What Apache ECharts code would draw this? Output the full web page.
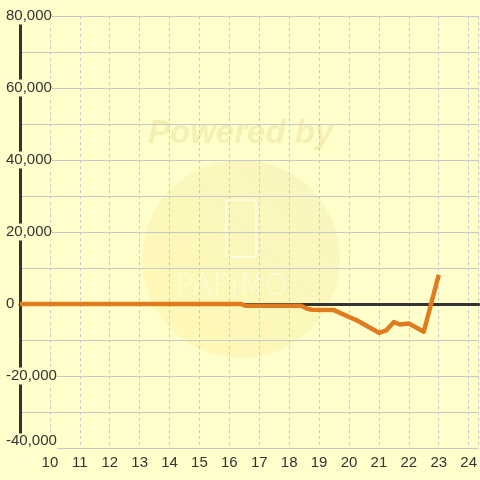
<!DOCTYPE html>
<html>
<head>
<meta charset="utf-8">
<script src="https://cdn.jsdelivr.net/npm/echarts@6/dist/echarts.min.js"></script>
<style>html,body{margin:0;padding:0;background:#ffffcc;}#c{width:480px;height:480px;}</style>
</head>
<body>
<div id="c"></div>
<script>
var xValues = [9, 16.4, 16.55, 18.4, 18.6, 18.75, 19.5, 20.0, 20.3, 21.0, 21.25, 21.5, 21.7, 22.0, 22.5, 23.0];
var yValues = [0, 0, -500, -500, -1300, -1600, -1700, -3600, -4700, -8000, -7300, -5000, -5700, -5400, -7700, 8100];
var yLabeled = [-40000, -20000, 0, 20000, 40000, 60000, 80000];

var chart = echarts.init(document.getElementById('c'), null, {renderer: 'canvas'});
var pts = xValues.map(function (x, i) { return [x, yValues[i]]; });
function fmt(v) { return v.toLocaleString('en-US'); }

chart.setOption({
  backgroundColor: '#ffffcc',
  animation: false,
  textStyle: {fontFamily: 'Liberation Sans, Arial, sans-serif'},
  graphic: [
    {type: 'circle', z: 0, shape: {cx: 241, cy: 259, r: 99}, style: {fill: {type: 'linear', x: 0, y: 1, x2: 1, y2: 0, colorStops: [{offset: 0, color: 'rgba(255,240,140,0.35)'}, {offset: 1, color: 'rgba(235,225,170,0.35)'}]}}, silent: true},
    {type: 'rect', z: 0, shape: {x: 226, y: 200, width: 30, height: 57, r: 4}, style: {fill: 'none', stroke: 'rgba(255,255,240,0.7)', lineWidth: 2}, silent: true},
    {type: 'text', z: 0, left: 176, top: 272, style: {text: 'PAPiMO', font: '200 30px "DejaVu Sans", sans-serif', fill: 'rgba(255,255,235,0.6)'}, silent: true},
    {type: 'text', z: 0, left: 148, top: 117, style: {text: 'Powered by', font: 'italic bold 33px "Liberation Sans", Arial, sans-serif', fill: 'rgba(240,228,160,0.6)'}, silent: true}
  ],
  grid: {left: 20, right: 0, top: 16, bottom: 32, containLabel: false},
  xAxis: [{
    type: 'value', min: 9, max: 9 + 460 / 30, interval: 1,
    axisLine: {show: false, onZero: false},
    axisTick: {show: false},
    axisLabel: {showMinLabel: false, showMaxLabel: false, color: '#333', fontSize: 15, margin: 7},
    splitLine: {show: true, lineStyle: {color: '#c8c8c8', type: [3, 3], width: 1}}
  }, {
    type: 'value', min: 9, max: 9 + 460 / 30, position: 'bottom',
    axisLine: {show: true, onZero: true, lineStyle: {color: '#333', width: 3}},
    axisTick: {show: false}, axisLabel: {show: false}, splitLine: {show: false}
  }],
  yAxis: {
    type: 'value', min: -40000, max: 80000, interval: 10000,
    axisLine: {show: true, onZero: false, lineStyle: {color: '#333', width: 3}},
    axisTick: {show: false},
    splitLine: {show: true, lineStyle: {color: '#c8c8c8', width: 1}},
    axisLabel: {
      align: 'left', margin: 14, color: '#333', fontSize: 15,
      formatter: function (v) {
        if (yLabeled.indexOf(v) < 0) return '';
        if (v === -40000) return '{low|' + fmt(v) + '}';
        return '{n|' + fmt(v) + '}';
      },
      rich: {
        n: {backgroundColor: '#ffffcc', color: '#333', fontSize: 15, padding: [1, 0, 1, 0]},
        low: {backgroundColor: '#ffffcc', color: '#333', fontSize: 15, padding: [0, 0, 14, 0]}
      }
    }
  },
  series: [{
    type: 'line', xAxisIndex: 0, data: pts, symbol: 'none', z: 5,
    lineStyle: {color: '#e07b20', width: 4.5, join: 'round'}
  }]
});
</script>
</body>
</html>
